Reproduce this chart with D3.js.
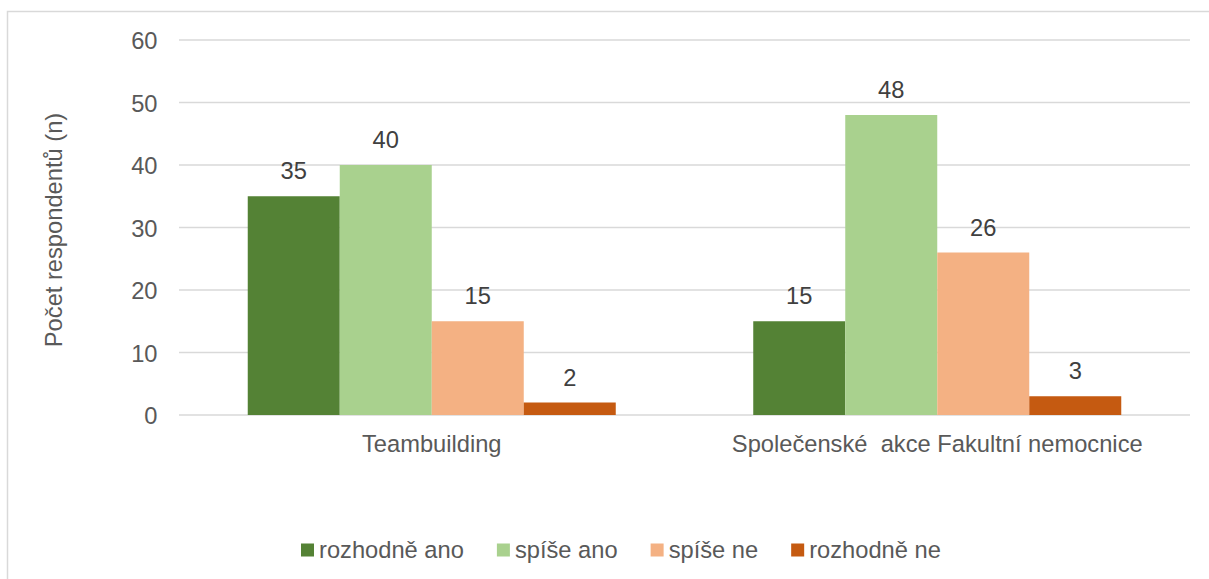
<!DOCTYPE html>
<html>
<head>
<meta charset="utf-8">
<script src="https://cdn.jsdelivr.net/npm/d3@7"></script>
<style>
  html, body { margin: 0; padding: 0; background: #fff; }
  svg { display: block; font-family: "Liberation Sans", Arial, sans-serif; }
</style>
</head>
<body>
<svg id="chart" width="1209" height="579"></svg>
<script>
const categories = ["Teambuilding", "Společenské  akce Fakultní nemocnice"];
const seriesNames = ["rozhodně ano", "spíše ano", "spíše ne", "rozhodně ne"];
const seriesColors = ["#548235", "#A9D18E", "#F4B183", "#C55A11"];
const rozhodneAno = [35, 15];
const spiseAno = [40, 48];
const spiseNe = [15, 26];
const rozhodneNe = [2, 3];
const seriesValues = [rozhodneAno, spiseAno, spiseNe, rozhodneNe];
const yTicks = [0, 10, 20, 30, 40, 50, 60];
const yTitle = "Počet respondentů (n)";

(function () {
const svg = d3.select("#chart");
const fs = 23.7;
const plotLeft = 179, plotRight = 1190, plotTop = 40, plotBottom = 415;

// outer border
svg.append("rect")
  .attr("x", 7.5).attr("y", 11.5)
  .attr("width", 1300).attr("height", 700)
  .attr("fill", "none").attr("stroke", "#d9d9d9").attr("stroke-width", 1.5);

const y = d3.scaleLinear().domain([0, 60]).range([plotBottom, plotTop]);
const x0 = d3.scaleBand().domain(categories).range([plotLeft, plotRight])
  .paddingInner(0.272).paddingOuter(0.136);
const x1 = d3.scaleBand().domain(seriesNames).range([0, x0.bandwidth()]).padding(0);

// gridlines
svg.append("g").selectAll("line").data(yTicks).join("line")
  .attr("x1", plotLeft).attr("x2", plotRight)
  .attr("y1", d => y(d)).attr("y2", d => y(d))
  .attr("stroke", "#d9d9d9").attr("stroke-width", 1.5);

// y axis tick labels
const yAxis = d3.axisLeft(y).tickValues(yTicks).tickSize(0).tickPadding(0);
const yg = svg.append("g").attr("transform", `translate(157.5,0)`).call(yAxis);
yg.select(".domain").remove();
yg.selectAll("text")
  .attr("font-size", fs).attr("fill", "#595959")
  .attr("font-family", "Liberation Sans, Arial, sans-serif")
  .attr("dy", "0.36em");

// y title
svg.append("text")
  .attr("transform", `translate(62,230) rotate(-90)`)
  .attr("text-anchor", "middle")
  .attr("font-size", fs).attr("fill", "#595959")
  .text(yTitle);

// bars
const groups = svg.append("g").selectAll("g").data(categories).join("g")
  .attr("transform", d => `translate(${x0(d)},0)`);

groups.each(function(cat, ci) {
  const g = d3.select(this);
  seriesNames.forEach((s, si) => {
    const v = seriesValues[si][ci];
    g.append("rect")
      .attr("x", x1(s)).attr("width", x1.bandwidth())
      .attr("y", y(v)).attr("height", y(0) - y(v))
      .attr("fill", seriesColors[si]);
    g.append("text")
      .attr("x", x1(s) + x1.bandwidth() / 2)
      .attr("y", y(v) - 17)
      .attr("text-anchor", "middle")
      .attr("font-size", fs).attr("fill", "#404040")
      .text(v);
  });
});

// category labels
const xAxis = d3.axisBottom(x0).tickSize(0).tickPadding(0);
const xg = svg.append("g").call(xAxis);
xg.select(".domain").remove();
xg.selectAll("text")
  .attr("y", 451.5).attr("dy", 0)
  .attr("font-size", fs).attr("fill", "#595959")
  .attr("font-family", "Liberation Sans, Arial, sans-serif")
  .style("white-space", "pre");

// legend
const legend = svg.append("g");
let lx = 301;
seriesNames.forEach((s, i) => {
  legend.append("rect")
    .attr("x", lx).attr("y", 543.5).attr("width", 13).attr("height", 13)
    .attr("fill", seriesColors[i]);
  const t = legend.append("text")
    .attr("x", lx + 18).attr("y", 558)
    .attr("font-size", fs).attr("fill", "#595959")
    .text(s);
  lx += 18 + t.node().getComputedTextLength() + 33;
});
})();
</script>
</body>
</html>
